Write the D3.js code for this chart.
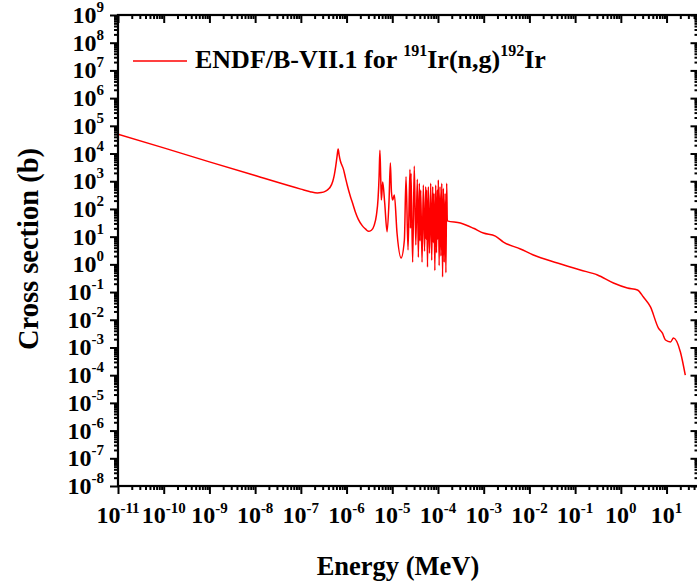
<!DOCTYPE html>
<html><head><meta charset="utf-8">
<script src="https://cdn.jsdelivr.net/npm/d3@7"></script>
<style>
body{margin:0;background:#fff}
svg{display:block}
text{font-family:"Liberation Serif","Times New Roman",serif;font-weight:bold;fill:#000}
</style>
</head><body>
<svg id="c" width="697" height="585"></svg>
<script>
// ---- data ----
const xTickExponents = [-11,-10,-9,-8,-7,-6,-5,-4,-3,-2,-1,0,1];
const yTickExponents = [9,8,7,6,5,4,3,2,1,0,-1,-2,-3,-4,-5,-6,-7,-8];
const seriesName = "ENDF/B-VII.1";
// thermal (1/v) region and low resonances
const energyLow = [1e-11,1e-10,1e-9,1e-8,1e-7,1.6e-7,2.3e-7,2.8e-7,3.4e-7,4.0e-7,4.4e-7,5.0e-7,5.4e-7,5.8e-7,6.2e-7,6.54e-7,
  6.7e-7,6.9e-7,7.3e-7,7.8e-7,8.5e-7,9.5e-7,1.04e-6,1.2e-6,1.34e-6,1.55e-6,1.81e-6,2.2e-6,2.58e-6,3.0e-6,3.5e-6,4.0e-6,4.5e-6,4.9e-6,5.15e-6,5.36e-6,5.6e-6,5.78e-6,6.17e-6,6.83e-6,
  7.69e-6,8.5e-6,9.08e-6,9.6e-6,1.02e-5,1.11e-5,1.27e-5,1.56e-5,1.84e-5];
const sigmaLow = [5.0e4,1.6e4,5.0e3,1.6e3,520,420,380,390,430,520,620,1000,1700,3500,8000,1.45e4,
  1.2e4,8500,5500,4000,2800,1300,700,300,170,80,42,25,19,15.5,17,25,60,250,1500,1.3e4,1200,210,940,164,
  15,200,4550,400,210,320,13.5,1.7,7.6];
// dense resolved-resonance region
const energyRes = [2.0e-5,2.21e-5,2.44e-5,2.5e-5,2.57e-5,2.79e-5,3.03e-5,3.27e-5,3.53e-5,3.72e-5,3.91e-5,4.05e-5,4.19e-5,4.48e-5,
  4.78e-5,5.08e-5,5.4e-5,5.53e-5,5.66e-5,5.9e-5,6.14e-5,6.52e-5,6.93e-5,7.29e-5,7.67e-5,7.92e-5,8.18e-5,8.54e-5,8.91e-5,9.28e-5,
  9.66e-5,9.91e-5,1.016e-4,1.06e-4,1.107e-4,1.157e-4,1.21e-4,1.26e-4,1.31e-4,1.37e-4,1.43e-4,1.49e-4,1.55e-4];
const sigmaRes = [1460,3.3,2700,20,1930,1.2,3550,5,1175,1.8,843,7,483,1.2,
  731,3,635,8,483,0.8,635,2.5,843,1.4,635,6,366,0.6,731,2.6,
  483,8,1110,0.9,635,2,843,0.35,556,1.2,366,0.5,843];
// unresolved / fast region
const energyHigh = [1.6e-4,3.09e-4,6e-4,9.84e-4,1.8e-3,2.7e-3,6.35e-3,0.0122,0.041,0.13,0.308,0.689,1.39,2.31,3.12,4.45,6.65,8.13,9.47,12.2,14.2,20.1,25.7];
const sigmaHigh = [37,31,20,13.5,10.5,6.4,3.6,2.18,1.12,0.625,0.413,0.212,0.14,0.119,0.066,0.029,5.0e-3,3.3e-3,1.86e-3,1.58e-3,2.2e-3,6.9e-4,1.0e-4];

// ---- layout ----
const P = {left:118, right:698.5, top:15, bottom:486};
const x = d3.scaleLog().domain([1e-11, 50]).range([P.left, P.right]);
const y = d3.scaleLog().domain([1e-8, 1e9]).range([P.bottom, P.top]);
const svg = d3.select("#c");

svg.append("clipPath").attr("id","clip").append("rect")
  .attr("x",P.left).attr("y",P.top).attr("width",P.right-P.left).attr("height",P.bottom-P.top);

const pts = d3.zip(energyLow.concat(energyRes, energyHigh), sigmaLow.concat(sigmaRes, sigmaHigh));
svg.append("path").datum(pts)
  .attr("clip-path","url(#clip)")
  .attr("d", d3.line().x(d=>x(d[0])).y(d=>y(d[1])).curve(d3.curveMonotoneX))
  .attr("fill","none").attr("stroke","#ff0000").attr("stroke-width",1.5).attr("stroke-linejoin","round");

// ticks
const xMajor = xTickExponents.map(e=>Math.pow(10,e));
const yMajor = yTickExponents.map(e=>Math.pow(10,e));
function minors(lo,hi,max){const o=[];for(let e=lo;e<=hi;e++)for(let k=2;k<=9;k++){const v=k*Math.pow(10,e);if(v<=max)o.push(v);}return o;}
const xMinor = minors(-11,1,50);
const yMinor = minors(-8,8,1e9);

function addAxis(gen, tx, ty, vals, size){
  const g = svg.append("g").attr("transform",`translate(${tx},${ty})`)
    .call(gen.tickValues(vals).tickSize(size).tickFormat(""));
  g.select(".domain").remove();
  g.selectAll(".tick line").attr("stroke","#000").attr("stroke-width",2);
}
addAxis(d3.axisBottom(x),0,P.bottom,xMajor,8);
addAxis(d3.axisBottom(x),0,P.bottom,xMinor,4);
addAxis(d3.axisTop(x),0,P.top,xMajor,-8);
addAxis(d3.axisTop(x),0,P.top,xMinor,-4);
addAxis(d3.axisLeft(y),P.left,0,yMajor,8);
addAxis(d3.axisLeft(y),P.left,0,yMinor,4);
addAxis(d3.axisRight(y),P.right,0,yMajor,-8);
addAxis(d3.axisRight(y),P.right,0,yMinor,-4);

svg.append("rect").attr("x",P.left).attr("y",P.top).attr("width",P.right-P.left).attr("height",P.bottom-P.top)
  .attr("fill","none").attr("stroke","#000").attr("stroke-width",2.2);

// tick labels
xTickExponents.forEach(e=>{
  const t = svg.append("text").attr("x",x(Math.pow(10,e))).attr("y",523).attr("text-anchor","middle");
  t.append("tspan").attr("font-size",24).text("10");
  t.append("tspan").attr("font-size",15).attr("dy",-10).text(String(e));
});
yTickExponents.forEach(e=>{
  const t = svg.append("text").attr("x",104).attr("y",y(Math.pow(10,e))+8).attr("text-anchor","end");
  t.append("tspan").attr("font-size",24).text("10");
  t.append("tspan").attr("font-size",15).attr("dy",-11).text(String(e));
});

// axis titles
svg.append("text").attr("x",398).attr("y",575).attr("text-anchor","middle").attr("font-size",26.5).text("Energy (MeV)");
svg.append("text").attr("transform","translate(38,249) rotate(-90)").attr("text-anchor","middle").attr("font-size",28.5).text("Cross section (b)");

// legend
svg.append("line").attr("x1",133).attr("x2",187).attr("y1",61).attr("y2",61).attr("stroke","#ff0000").attr("stroke-width",1.5);
const lg = svg.append("text").attr("x",195).attr("y",68).attr("font-size",26);
lg.append("tspan").text(seriesName + " for ");
lg.append("tspan").attr("font-size",16).attr("dy",-12).text("191");
lg.append("tspan").attr("dy",12).text("Ir(n,g)");
lg.append("tspan").attr("font-size",16).attr("dy",-12).text("192");
lg.append("tspan").attr("dy",12).text("Ir");
</script>
</body></html>
